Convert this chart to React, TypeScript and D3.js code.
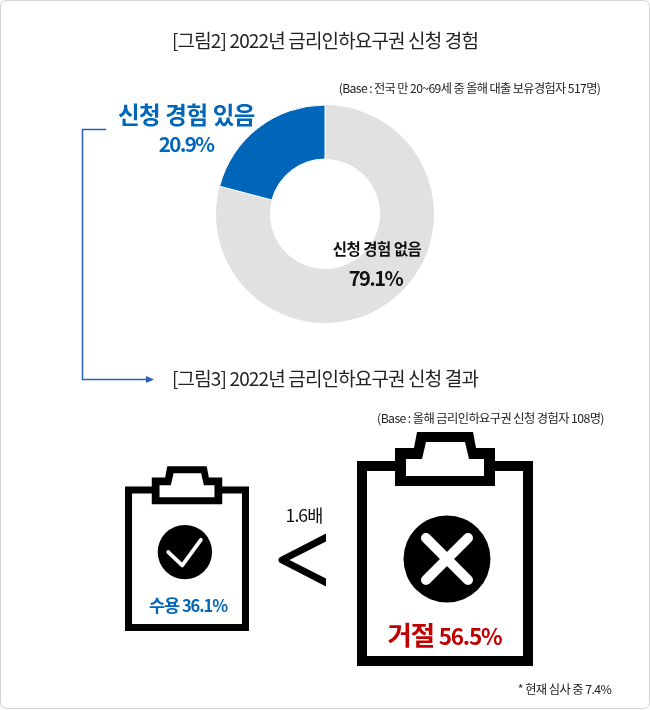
import React from "react";
import * as d3 from "d3";

const donutLabels = ["신청 경험 있음", "신청 경험 없음"];
const donutValues = [20.9, 79.1];
const donutColors = ["#0066b9", "#e1e1e1"];
const resultLabels = ["수용", "거절"];
const resultValues = [36.1, 56.5];
const title1 = "[그림2] 2022년 금리인하요구권 신청 경험";
const title2 = "[그림3] 2022년 금리인하요구권 신청 결과";
const base1 = "(Base : 전국 만 20~69세 중 올해 대출 보유경험자 517명)";
const base2 = "(Base : 올해 금리인하요구권 신청 경험자 108명)";
const ratioLabel = "1.6배";
const footnote = "* 현재 심사 중 7.4%";

const FONT = "'Noto Sans CJK KR','Noto Sans',sans-serif";

const widthScale = d3.scaleLinear().domain(resultValues).range([124, 176]);

function Clipboard({ x, bottom, value, kind }: { x: number; bottom: number; value: number; kind: "check" | "cross" }) {
  const w = widthScale(value);
  const s = w / 176;
  const h = 205 * s;
  const sw = 10 * s;
  const p = (a: [number, number][]) => d3.line()(a.map(([u, v]) => [u * s, v * s] as [number, number]))! + "Z";
  const board = p([[5, 5], [171, 5], [171, 200], [5, 200]]);
  const clipOuter = p([[38, -13], [57, -13], [60, -29], [116, -29], [119, -13], [138, -13], [138, 25], [38, 25]]);
  const clipInner = p([[49, -2], [65, -2], [69, -19], [108, -19], [112, -2], [127, -2], [127, 15], [49, 15]]);
  const cx = (kind === "check" ? 85 : 90) * s;
  const cy = (kind === "check" ? 93 : 98) * s;
  const r = (kind === "check" ? 38.6 : 43.5) * s;
  return (
    <g transform={`translate(${x},${bottom - h})`}>
      <path d={board} fill="#fff" stroke="#000" strokeWidth={sw} />
      <path d={clipOuter} fill="#000" />
      <path d={clipInner} fill="#fff" />
      <circle cx={cx} cy={cy} r={r} fill="#000" />
      {kind === "check" ? (
        <path
          d={p([[-23.6, 0], [-3.8, 19], [22.7, -17.4]]).replace("Z", "")}
          transform={`translate(${cx},${cy})`}
          fill="none"
          stroke="#fff"
          strokeWidth={3.8}
          strokeLinecap="round"
          strokeLinejoin="round"
        />
      ) : (
        <g transform={`translate(${cx},${cy})`} stroke="#fff" strokeWidth={10} strokeLinecap="round">
          <line x1={-21} y1={-21} x2={21} y2={21} />
          <line x1={21} y1={-21} x2={-21} y2={21} />
        </g>
      )}
    </g>
  );
}

export default function App() {
  const cx = 325, cy = 214;
  const pie = d3.pie<number>().sort(null).startAngle(0).endAngle(2 * Math.PI);
  const arcs = pie([donutValues[1], donutValues[0]]);
  const arc = d3.arc<d3.PieArcDatum<number>>().innerRadius(55).outerRadius(109);
  return (
    <svg width={650} height={710} style={{ position: "fixed", left: 0, top: 0, fontFamily: FONT }}>
      <defs>
        <clipPath id="lt"><rect x={270} y={525} width={56} height={70} /></clipPath>
      </defs>
      <rect x={0.5} y={0.5} width={649} height={708} rx={6} fill="#fff" stroke="#d2d2d2" />
      <text x={325} y={48} textAnchor="middle" fontSize={19} letterSpacing={-0.85} fill="#222">{title1}</text>
      <text x={469.5} y={93} textAnchor="middle" fontSize={12.2} letterSpacing={-0.62} fill="#222">{base1}</text>

      <g transform={`translate(${cx},${cy})`}>
        <path d={arc(arcs[0])!} fill={donutColors[1]} />
        <path d={arc(arcs[1])!} fill={donutColors[0]} stroke="#fff" strokeWidth={1} />
      </g>
      <text x={186.5} y={124} textAnchor="middle" fontSize={23.5} fontWeight={700} letterSpacing={-0.4} fill="#0066b9">{donutLabels[0]}</text>
      <text x={186} y={152} textAnchor="middle" fontSize={20.5} fontWeight={700} letterSpacing={-1.6} fill="#0066b9">{donutValues[0]}%</text>
      <text x={377} y={255} textAnchor="middle" fontSize={15.5} fontWeight={700} letterSpacing={-0.5} fill="#111">{donutLabels[1]}</text>
      <text x={375.5} y={286} textAnchor="middle" fontSize={20} fontWeight={700} letterSpacing={-1.5} fill="#111">{donutValues[1]}%</text>

      <path d="M106,129.5H82.5V379.5H146" fill="none" stroke="#2a5fb5" strokeWidth={1.5} />
      <path d="M146,376L154,379.5L146,383Z" fill="#2a5fb5" />

      <text x={325} y={386} textAnchor="middle" fontSize={19} letterSpacing={-0.85} fill="#222">{title2}</text>
      <text x={490.5} y={423} textAnchor="middle" fontSize={12.3} letterSpacing={-0.62} fill="#222">{base2}</text>

      <Clipboard x={125} bottom={631} value={resultValues[0]} kind="check" />
      <Clipboard x={357} bottom={666} value={resultValues[1]} kind="cross" />

      <text x={188} y={612} textAnchor="middle" fontWeight={700} letterSpacing={-1.1} fill="#0066b9">
        <tspan fontSize={17.5}>{resultLabels[0]} </tspan>
        <tspan fontSize={16.5}>{resultValues[0]}%</tspan>
      </text>
      <text x={444.5} y={645} textAnchor="middle" fontWeight={700} letterSpacing={-1.2} fill="#c00000">
        <tspan fontSize={26.5}>{resultLabels[1]} </tspan>
        <tspan fontSize={22.5}>{resultValues[1]}%</tspan>
      </text>

      <text x={304} y={522} textAnchor="middle" fontSize={17.5} letterSpacing={-0.9} fill="#111">{ratioLabel}</text>
      <path d="M330,535.5L282,560L330,584.5" fill="none" stroke="#000" strokeWidth={7} strokeLinejoin="round" clipPath="url(#lt)" />

      <text x={564.5} y={694} textAnchor="middle" fontSize={12.3} letterSpacing={-0.6} fill="#222">{footnote}</text>
    </svg>
  );
}
